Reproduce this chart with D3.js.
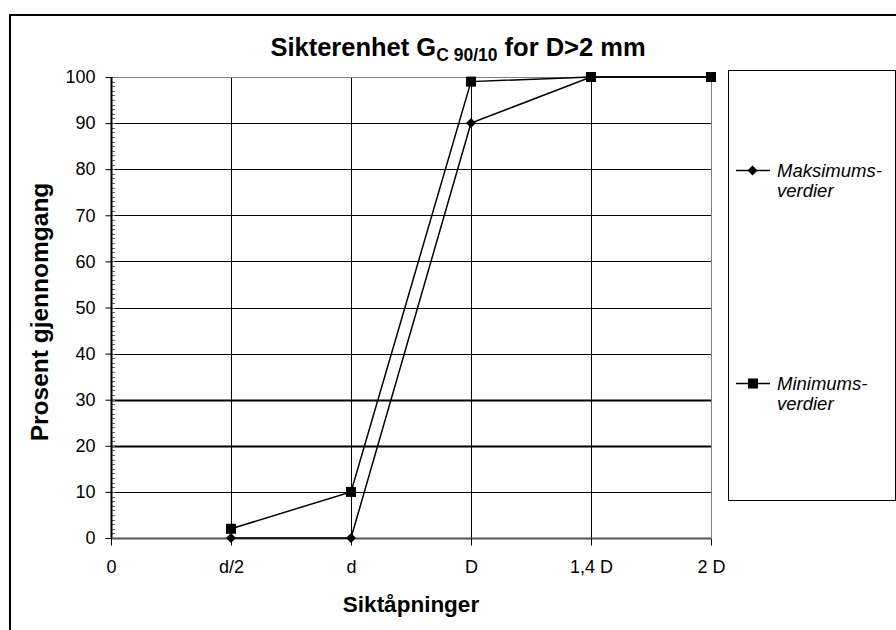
<!DOCTYPE html>
<html>
<head>
<meta charset="utf-8">
<script src="https://cdn.jsdelivr.net/npm/d3@7"></script>
<style>
  html, body { margin: 0; padding: 0; background: #fff; }
  svg { display: block; font-family: "Liberation Sans", Arial, sans-serif; }
</style>
</head>
<body>
<svg id="chart" width="896" height="630"></svg>
<script>
// Sieve openings (categories along the x axis)
const categories = ["0", "d/2", "d", "D", "1,4 D", "2 D"];
// Passing percentages per opening (the "0" position carries no point)
const maxCats = ["d/2", "d", "D", "1,4 D", "2 D"];
const maxValues = [0, 0, 90, 100, 100];
const minCats = ["d/2", "d", "D", "1,4 D", "2 D"];
const minValues = [2, 10, 99, 100, 100];
const yTicks = [0, 10, 20, 30, 40, 50, 60, 70, 80, 90, 100];
const seriesNames = [["Maksimums-", "verdier"], ["Minimums-", "verdier"]];

const FONT = "'Liberation Sans', Arial, sans-serif";
const svg = d3.select("#chart");

// Outer frame of the chart
svg.append("path")
  .attr("d", "M10,640 L10,15 L906,15")
  .attr("fill", "none").attr("stroke", "#000").attr("stroke-width", 2);

const x = d3.scalePoint().domain(categories).range([111, 711]);
const y = d3.scaleLinear().domain([0, 100]).range([538, 77]);

// Horizontal gridlines
const thick = new Set([20, 30]);
svg.append("g").selectAll("line").data(yTicks.filter(v => v > 0 && v < 100)).join("line")
  .attr("x1", x("0")).attr("x2", x("2 D"))
  .attr("y1", d => Math.round(y(d)) + 0.5).attr("y2", d => Math.round(y(d)) + 0.5)
  .attr("stroke", "#000").attr("stroke-width", d => thick.has(d) ? 2 : 1);

// Vertical gridlines at each opening, extending down as tick marks
svg.append("g").selectAll("line").data(categories.slice(1, 5)).join("line")
  .attr("x1", d => x(d) + 0.5).attr("x2", d => x(d) + 0.5)
  .attr("y1", y(100)).attr("y2", y(0) + 7)
  .attr("stroke", "#000").attr("stroke-width", 1);

// Plot area border: top and right edge
svg.append("line").attr("x1", x("0")).attr("x2", x("2 D"))
  .attr("y1", Math.round(y(100)) + 0.5).attr("y2", Math.round(y(100)) + 0.5)
  .attr("stroke", "#808080").attr("stroke-width", 1);
svg.append("line").attr("x1", x("2 D") + 0.5).attr("x2", x("2 D") + 0.5)
  .attr("y1", y(100)).attr("y2", y(0))
  .attr("stroke", "#808080").attr("stroke-width", 1);

// Minor ticks on the y axis (every unit)
svg.append("g").selectAll("line").data(d3.range(0, 101)).join("line")
  .attr("x1", x("0")).attr("x2", x("0") + 4)
  .attr("y1", d => Math.round(y(d)) + 0.5).attr("y2", d => Math.round(y(d)) + 0.5)
  .attr("stroke", "#666").attr("stroke-width", 1);

// Y axis
const yAxis = svg.append("g").attr("transform", `translate(${x("0") + 0.5},0)`)
  .call(d3.axisLeft(y).tickValues(yTicks).tickSize(6).tickPadding(10).tickFormat(d3.format("d")));
yAxis.attr("font-size", null).attr("font-family", null);
yAxis.select(".domain").attr("stroke", "#000").attr("stroke-width", 2).attr("d", `M0,${y(100)}V${y(0)}`);
yAxis.selectAll(".tick line").attr("stroke", "#000");
yAxis.selectAll("text").style("font-size", "18px").attr("fill", "#000").style("font-family", FONT);

// X axis
const xAxis = svg.append("g").attr("transform", `translate(0,${Math.round(y(0)) + 0.5})`)
  .call(d3.axisBottom(x).tickSize(7).tickPadding(15));
xAxis.attr("font-size", null).attr("font-family", null);
xAxis.select(".domain").attr("stroke", "#555").attr("stroke-width", 2).attr("d", `M${x("0")},0H${x("2 D")}`);
xAxis.selectAll(".tick line").attr("stroke", "#000");
xAxis.selectAll("text").style("font-size", "18px").attr("fill", "#000").style("font-family", FONT);

// Series lines
const line = d3.line().x(d => x(d[0])).y(d => y(d[1]));
const maxData = maxCats.map((c, i) => [c, maxValues[i]]);
const minData = minCats.map((c, i) => [c, minValues[i]]);
svg.append("path").datum(maxData).attr("d", line)
  .attr("fill", "none").attr("stroke", "#000").attr("stroke-width", 1.5);
svg.append("path").datum(minData).attr("d", line)
  .attr("fill", "none").attr("stroke", "#000").attr("stroke-width", 1.5);

// Markers: square-based diamond and filled square
const diamond = "M0,-5L5,0L0,5L-5,0Z";
svg.append("g").selectAll("path").data(maxData).join("path")
  .attr("transform", d => `translate(${x(d[0])},${y(d[1])})`)
  .attr("d", diamond).attr("fill", "#000");
svg.append("g").selectAll("rect").data(minData).join("rect")
  .attr("x", d => x(d[0]) - 5).attr("y", d => y(d[1]) - 5)
  .attr("width", 10).attr("height", 10).attr("fill", "#000");

// Title with subscript
const title = svg.append("text").attr("x", 458).attr("y", 56)
  .attr("text-anchor", "middle").attr("font-weight", "bold").style("font-size", "25.5px");
title.append("tspan").text("Sikterenhet G");
title.append("tspan").style("font-size", "17.5px").attr("dy", 5).text("C 90/10");
title.append("tspan").attr("dy", -5).text(" for D>2 mm");

// Axis titles
svg.append("text").attr("x", 411).attr("y", 612).attr("text-anchor", "middle")
  .attr("font-weight", "bold").style("font-size", "22.5px").text("Siktåpninger");
svg.append("text").attr("transform", "translate(48,312) rotate(-90)")
  .attr("text-anchor", "middle").attr("font-weight", "bold").style("font-size", "24.5px")
  .text("Prosent gjennomgang");

// Legend
const legend = svg.append("g");
legend.append("rect").attr("x", 728.5).attr("y", 70.5).attr("width", 167).attr("height", 430)
  .attr("fill", "none").attr("stroke", "#000").attr("stroke-width", 1);
const legendY = [170, 383];
seriesNames.forEach((names, i) => {
  const g = legend.append("g").attr("transform", `translate(0,${legendY[i]})`);
  g.append("line").attr("x1", 736).attr("x2", 770).attr("y1", 0.5).attr("y2", 0.5)
    .attr("stroke", "#000").attr("stroke-width", 1.5);
  if (i === 0) {
    g.append("path").attr("transform", "translate(752.5,0.5)").attr("d", diamond).attr("fill", "#000");
  } else {
    g.append("rect").attr("x", 748).attr("y", -4.5).attr("width", 10).attr("height", 10).attr("fill", "#000");
  }
  names.forEach((t, j) => {
    g.append("text").attr("x", 777).attr("y", 7 + j * 20)
      .attr("font-style", "italic").style("font-size", "18.5px").text(t);
  });
});
</script>
</body>
</html>
